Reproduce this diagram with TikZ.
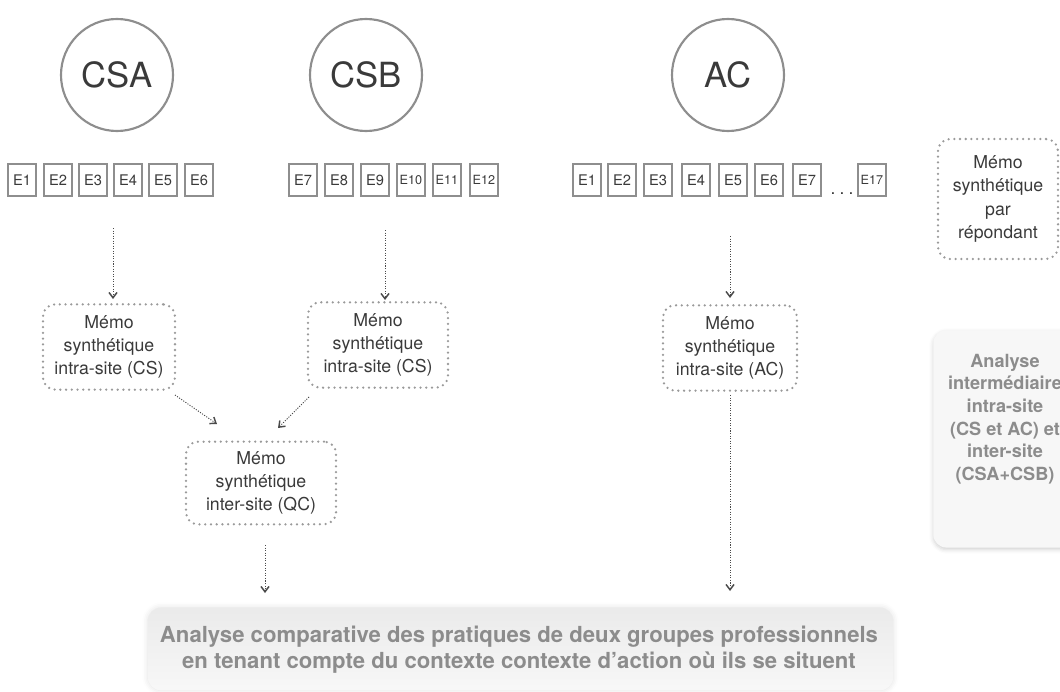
\documentclass[tikz,border=0pt]{standalone}
\usepackage{fontspec}
\setmainfont{TeX Gyre Heros}
\usetikzlibrary{arrows.meta,shadows.blur}
\definecolor{ln}{HTML}{8E8E8E}
\definecolor{dt}{HTML}{9A9A9A}
\definecolor{tx}{HTML}{3A3A3A}
\definecolor{bt}{HTML}{8C8C8C}
\definecolor{ar}{HTML}{4A4A4A}
\begin{document}
\begin{tikzpicture}[x=0.75pt,y=-0.75pt,
  circ/.style={circle,draw=ln,line width=1.6pt,minimum size=84pt,inner sep=0pt,
    font=\fontsize{26}{30}\selectfont,text=tx},
  ebox/.style={draw=ln,line width=1.5pt,minimum width=21pt,minimum height=23.5pt,
    inner sep=0pt,font=\fontsize{11}{12}\selectfont,text=tx},
  esm/.style={ebox,font=\fontsize{9.5}{10}\selectfont},
  memo/.style={draw=dt,line width=1.9pt,line cap=round,dash pattern=on 0pt off 4.3pt,
    rounded corners=9pt,align=center,inner sep=0pt,
    font=\fontsize{13.3}{17.5}\selectfont,text=tx},
  arr/.style={draw=ar,line width=0.7pt,dash pattern=on 0.8pt off 1.1pt,
    -{Straight Barb[length=4pt,width=6pt,line width=1.1pt]}},
  bold gray/.style={align=center,text=bt,font=\bfseries}]
\useasboundingbox (0,0) rectangle (1060,692);
\clip (0,0) rectangle (1060,692);

% circles
\node[circ] (csa) at (117,75) {CSA};
\node[circ] (csb) at (366,75) {CSB};
\node[circ] (ac)  at (728,75) {AC};

% E boxes CSA
\foreach \n/\x in {1/22,2/58,3/93,4/128,5/163,6/199}
  \node[ebox] (a\n) at (\x,180) {E\n};
% E boxes CSB
\node[ebox] (b7) at (303,180) {E7};
\node[ebox] (b8) at (339,180) {E8};
\node[ebox] (b9) at (375,180) {E9};
\node[esm] (b10) at (411,180) {E10};
\node[esm] (b11) at (447,180) {E11};
\node[esm] (b12) at (484,180) {E12};
% E boxes AC
\foreach \n/\x in {1/587,2/622,3/658,4/696,5/733,6/769,7/807}
  \node[ebox] (c\n) at (\x,180) {E\n};
\node[inner sep=0pt,text=tx,font=\fontsize{13}{13}\selectfont,anchor=base] (dots) at (842,194) {.\hspace{3.2pt}.\hspace{3.2pt}.};
\node[esm] (c17) at (872,180) {E17};

% memos
\node[memo,minimum width=99pt,minimum height=64pt] (mL) at (109,347) {Mémo\\synthétique\\intra-site (CS)};
\node[memo,minimum width=105pt,minimum height=64pt] (mR) at (378,345) {Mémo\\synthétique\\intra-site (CS)};
\node[memo,minimum width=100.5pt,minimum height=64pt] (mA) at (730,348) {Mémo\\synthétique\\intra-site (AC)};
\node[memo,minimum width=112.5pt,minimum height=62pt] (mQ) at (261,483) {Mémo\\synthétique\\inter-site (QC)};
\node[memo,minimum width=90pt,minimum height=90pt] (mP) at (998,199) {Mémo\\synthétique\\par\\répondant};

% right gray box
\node[draw=none,fill=gray!6,rounded corners=10pt,minimum width=110pt,minimum height=163pt,
  blur shadow={shadow xshift=0pt,shadow yshift=-1.5pt,shadow blur radius=3pt,shadow opacity=18},
  anchor=north west] (ri) at (933,330) {};
\node[bold gray,font=\bfseries\fontsize{13.6}{17}\selectfont] (riT) at (1005,419)
  {Analyse\\intermédiaire\\intra-site\\(CS et AC) et\\inter-site\\(CSA+CSB)};

% bottom box
\node[draw=none,rounded corners=10pt,minimum width=559pt,minimum height=62pt,
  top color=gray!16,bottom color=gray!6,
  blur shadow={shadow xshift=0pt,shadow yshift=0pt,shadow blur radius=4pt,shadow opacity=12}]
  (bot) at (520.5,649) {};
\node[bold gray,font=\bfseries\fontsize{16.6}{19.5}\selectfont] (botT) at (519,650)
  {Analyse comparative des pratiques de deux groupes professionnels\\en tenant compte du contexte contexte d’action où ils se situent};

% arrow coordinates (free ends)
\coordinate (s1) at (113,228);
\coordinate (s2) at (385,230);
\coordinate (s3) at (730,236);
\coordinate (s4) at (175,395);
\coordinate (e4) at (217,424);
\coordinate (s5) at (309,397);
\coordinate (e5) at (278,428);
\coordinate (s6) at (265,545);
\coordinate (e6) at (265,593);
\coordinate (s7) at (730,395);
\coordinate (e7) at (730,591);
\coordinate (e1) at (113,299);
\coordinate (e2) at (385,300);
\coordinate (e3) at (730,298);

\draw[arr] (s1) -- (e1);
\draw[arr] (s2) -- (e2);
\draw[arr] (s3) -- (e3);
\draw[arr] (s4) -- (e4);
\draw[arr] (s5) -- (e5);
\draw[arr] (s6) -- (e6);
\draw[arr] (s7) -- (e7);
\end{tikzpicture}
\end{document}
